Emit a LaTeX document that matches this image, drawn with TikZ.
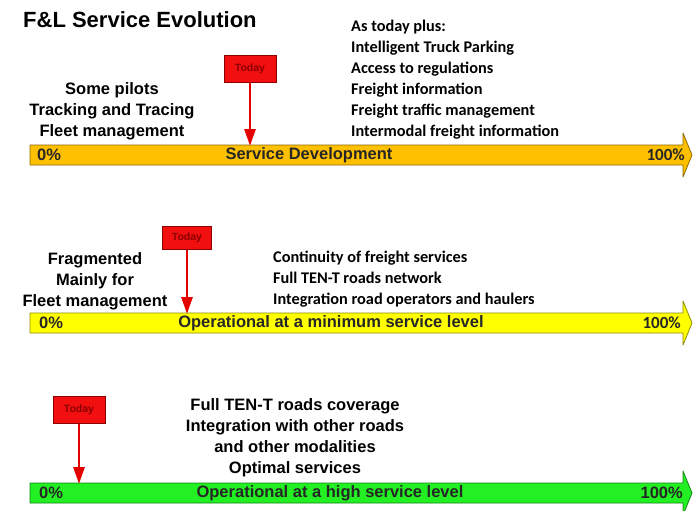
\documentclass[tikz,border=0pt]{standalone}
\usepackage{fontspec}
\setmainfont{Liberation Sans}
\newfontfamily\calibri{Carlito}
\usetikzlibrary{positioning, arrows.meta}

\definecolor{orangebar}{HTML}{FFC000}
\definecolor{yellowbar}{HTML}{FFFF00}
\definecolor{greenbar}{HTML}{22F022}
\definecolor{todayred}{HTML}{F20F0F}
\definecolor{todaytext}{HTML}{8C0000}

\begin{document}
\begin{tikzpicture}[x=1pt, y=-1pt,
    bar/.style={line width=0.8pt, line join=round},
    barlabel/.style={inner sep=0, text=black!85, font=\bfseries\fontsize{16.5}{18}\selectfont},
    percent/.style={inner sep=0, text=black!85, font=\calibri\bfseries\fontsize{17}{18}\selectfont},
    leftnote/.style={inner sep=0, align=center, font=\bfseries\fontsize{16.5}{21}\selectfont},
    rightnote/.style={inner sep=0, align=left, font=\calibri\bfseries\fontsize{16.3}{21}\selectfont},
    todaybox/.style={draw=todaytext, fill=todayred, line width=1pt, minimum width=52pt, minimum height=27pt,
        inner sep=0, text=todaytext, font=\bfseries\fontsize{10.5}{12}\selectfont},
    todayarrow/.style={draw=red!90!black, line width=2.8pt, -{Triangle[length=17pt, width=11pt]}, shorten >=-1pt}]
    \fill[white] (0,0) rectangle (693,511);
    \useasboundingbox (0,0) rectangle (693,511);

    \node[anchor=base west, inner sep=0, font=\bfseries\fontsize{22}{24}\selectfont] (title) at (23,28) {F\&L Service Evolution};

    % the three bars
    \foreach \yb/\col in {145/orangebar, 313/yellowbar, 483/greenbar}
        \draw[bar, fill=\col, draw=\col!55!black] (30,\yb) -- (683,\yb) -- (683,\yb-12) -- (692,\yb+10)
            -- (683,\yb+32) -- (683,\yb+20) -- (30,\yb+20) -- cycle;

    % service development
    \node[leftnote, anchor=north] (pilots) at (112,82) {Some pilots\\Tracking and Tracing\\Fleet management};
    \node[rightnote, anchor=north west] (plus) at (351,20) {As today plus:\\Intelligent Truck Parking\\Access to regulations\\Freight information\\Freight traffic management\\Intermodal freight information};
    \node[todaybox] (today1) at (250,69) {Today};
    \coordinate (hit1) at (250,145);
    \draw[todayarrow] (today1) -- (hit1);
    \node[barlabel, anchor=west] (zero1) at (37,155) {0\%};
    \node[barlabel] (dev) at (309,155) {Service Development};
    \node[percent, anchor=east] (full1) at (685,155) {100\%};

    % minimum service level
    \node[leftnote, anchor=north] (fragm) at (95,252) {Fragmented\\Mainly for\\Fleet management};
    \node[rightnote, anchor=north west] (cont) at (273,251) {Continuity of freight services\\Full TEN-T roads network\\Integration road operators and haulers};
    \node[todaybox, minimum width=49pt, minimum height=23pt] (today2) at (187,238) {Today};
    \coordinate (hit2) at (187,313);
    \draw[todayarrow] (today2) -- (hit2);
    \node[barlabel, anchor=west] (zero2) at (39,323) {0\%};
    \node[barlabel] (minimum) at (331,323) {Operational at a minimum service level};
    \node[percent, anchor=east] (full2) at (681,323) {100\%};

    % high service level
    \node[leftnote, anchor=north] (full) at (295,398) {Full TEN-T roads coverage\\Integration with other roads\\and other modalities\\Optimal services};
    \node[todaybox] (today3) at (79,410) {Today};
    \coordinate (hit3) at (79,483);
    \draw[todayarrow] (today3) -- (hit3);
    \node[barlabel, anchor=west] (zero3) at (39,493) {0\%};
    \node[barlabel] (high) at (330,493) {Operational at a high service level};
    \node[barlabel, anchor=east] (full3) at (683,493) {100\%};
\end{tikzpicture}
\end{document}
